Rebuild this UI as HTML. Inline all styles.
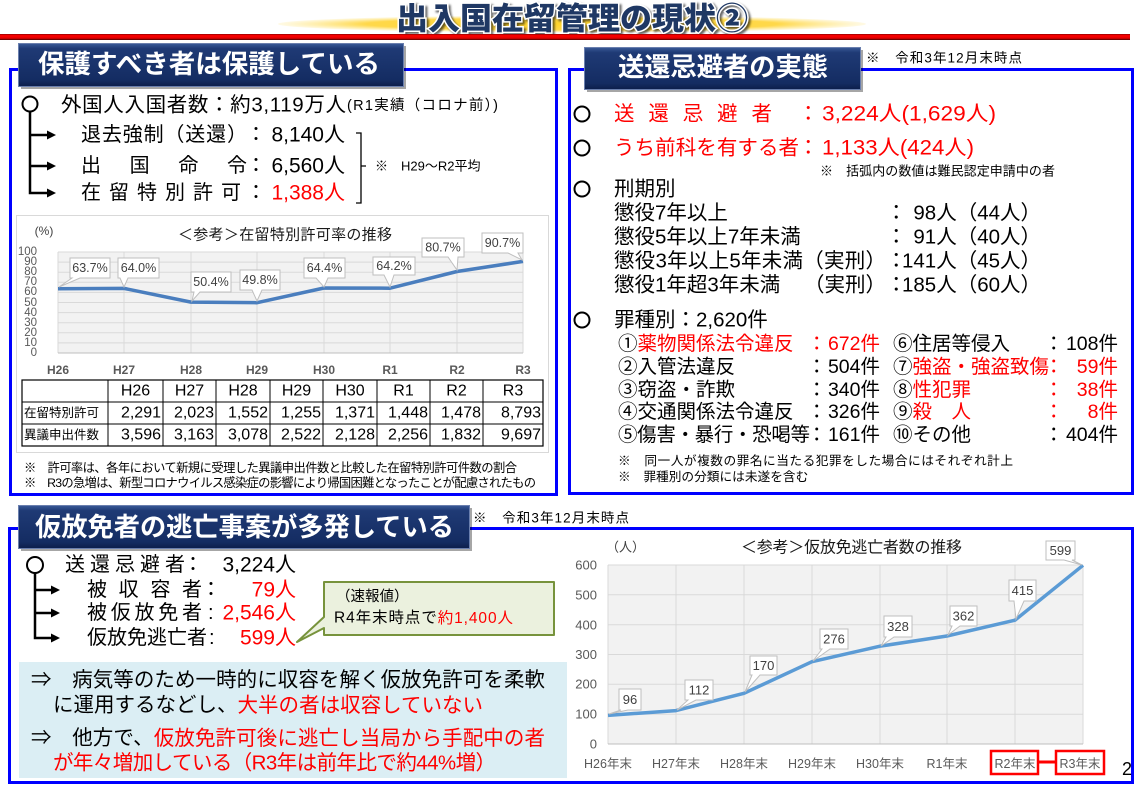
<!DOCTYPE html>
<html><head><meta charset="utf-8">
<style>
html,body{margin:0;padding:0;background:#fff;}
body{width:1139px;height:790px;overflow:hidden;position:relative;}
svg{position:absolute;left:0;top:0;}
text{font-family:"Liberation Sans","Noto Sans CJK JP",sans-serif;dominant-baseline:central;}
</style></head><body>
<svg width="1139" height="790" viewBox="0 0 1139 790" xmlns="http://www.w3.org/2000/svg">
<defs>
<radialGradient id="yel" cx="50%" cy="50%" r="50%">
 <stop offset="0" stop-color="#ffd42a"/>
 <stop offset="0.7" stop-color="#ffd84a"/>
 <stop offset="1" stop-color="#ffe680" stop-opacity="0.2"/>
</radialGradient>
<linearGradient id="redbar" x1="0" y1="0" x2="0" y2="1">
 <stop offset="0" stop-color="#8a0000"/>
 <stop offset="0.25" stop-color="#ff0000"/>
 <stop offset="0.7" stop-color="#e00000"/>
 <stop offset="1" stop-color="#4a0000"/>
</linearGradient>
<linearGradient id="navy" x1="0" y1="0" x2="0" y2="1">
 <stop offset="0" stop-color="#3a5a98"/>
 <stop offset="0.12" stop-color="#1f3a75"/>
 <stop offset="0.85" stop-color="#142c62"/>
 <stop offset="1" stop-color="#0c1e4a"/>
</linearGradient>
</defs>

<!-- Title -->
<ellipse cx="572" cy="24" rx="294" ry="8.5" fill="url(#yel)"/>
<text x="396" y="19" font-size="31" font-weight="900" fill="#1f3864" stroke="#fff" stroke-width="3" paint-order="stroke" textLength="352" lengthAdjust="spacingAndGlyphs" style="filter:drop-shadow(2px 2px 1px rgba(0,0,0,.6))">出入国在留管理の現状②</text>
<rect x="0" y="34" width="1130" height="6" fill="url(#redbar)"/>

<!-- Panels -->
<rect x="10.5" y="69.5" width="546" height="425" fill="none" stroke="#0000ff" stroke-width="3"/>
<rect x="569.5" y="69.5" width="563" height="424" fill="none" stroke="#0000ff" stroke-width="3"/>
<rect x="9.5" y="528.5" width="1123" height="254" fill="none" stroke="#0000ff" stroke-width="3"/>

<!-- Header boxes -->
<rect x="21" y="46" width="385" height="43" fill="rgba(0,0,0,.35)"/>
<rect x="18.5" y="43.5" width="385" height="43" fill="url(#navy)" stroke="#6a7fae" stroke-width="1"/>
<text x="38" y="64" font-size="26" font-weight="bold" fill="#fff" textLength="342" lengthAdjust="spacingAndGlyphs">保護すべき者は保護している</text>

<rect x="587" y="50" width="276" height="42" fill="rgba(0,0,0,.35)"/>
<rect x="584.5" y="47.5" width="276" height="42" fill="url(#navy)" stroke="#6a7fae" stroke-width="1"/>
<text x="618" y="67" font-size="26" font-weight="bold" fill="#fff" textLength="210" lengthAdjust="spacingAndGlyphs">送還忌避者の実態</text>
<text x="866" y="58" font-size="13.5" fill="#000" textLength="156" lengthAdjust="spacing">※　令和3年12月末時点</text>

<rect x="21" y="508" width="451" height="43" fill="rgba(0,0,0,.35)"/>
<rect x="18.5" y="505.5" width="451" height="43" fill="url(#navy)" stroke="#6a7fae" stroke-width="1"/>
<text x="35" y="527" font-size="26" font-weight="bold" fill="#fff" textLength="419" lengthAdjust="spacingAndGlyphs">仮放免者の逃亡事案が多発している</text>
<text x="473" y="518" font-size="13.5" fill="#000" textLength="156" lengthAdjust="spacing">※　令和3年12月末時点</text>

<!-- ===== Left panel ===== -->
<circle cx="30" cy="104" r="7.5" fill="none" stroke="#000" stroke-width="2"/>
<path d="M30 112 V193 H48 M30 135 H48 M30 166 H48" stroke="#000" stroke-width="2.5" fill="none"/>
<path d="M47 130.5 L56 135 L47 139.5Z M47 161.5 L56 166 L47 170.5Z M47 188.5 L56 193 L47 197.5Z" fill="#000"/>
<text x="61" y="105" font-size="20.5" textLength="285" lengthAdjust="spacing">外国人入国者数：約3,119万人</text>
<text x="347" y="106" font-size="14.5" textLength="151" lengthAdjust="spacing">(R1実績（コロナ前）)</text>

<text x="81" y="135" font-size="20" textLength="166" lengthAdjust="spacing">退去強制（送還）</text>
<text x="246" y="135" font-size="20">：</text>
<text x="345" y="135" font-size="21" text-anchor="end">8,140人</text>
<text x="81" y="166" font-size="20" textLength="166" lengthAdjust="spacing">出　国　命　令</text>
<text x="246" y="166" font-size="20">：</text>
<text x="345" y="166" font-size="21" text-anchor="end">6,560人</text>
<text x="81" y="193" font-size="20" textLength="160" lengthAdjust="spacing">在留特別許可</text>
<text x="246" y="193" font-size="20">：</text>
<text x="345" y="193" font-size="21" text-anchor="end" fill="#ff0000">1,388人</text>
<path d="M356 133 H361 V203 H356 M361 166 H366" stroke="#000" stroke-width="1.3" fill="none"/>
<text x="375" y="166" font-size="13">※　H29〜R2平均</text>

<!-- Left chart -->
<rect x="16.5" y="215.5" width="532" height="237" fill="#fff" stroke="#d9d9d9"/>
<rect x="58" y="252" width="465" height="101" fill="#f2f2f2"/>
<g stroke="#d9d9d9" stroke-width="1">
<line x1="58" x2="523" y1="252" y2="252"/><line x1="58" x2="523" y1="262.1" y2="262.1"/>
<line x1="58" x2="523" y1="272.2" y2="272.2"/><line x1="58" x2="523" y1="282.3" y2="282.3"/>
<line x1="58" x2="523" y1="292.4" y2="292.4"/><line x1="58" x2="523" y1="302.5" y2="302.5"/>
<line x1="58" x2="523" y1="312.6" y2="312.6"/><line x1="58" x2="523" y1="322.7" y2="322.7"/>
<line x1="58" x2="523" y1="332.8" y2="332.8"/><line x1="58" x2="523" y1="342.9" y2="342.9"/>
<line x1="58" x2="58" y1="252" y2="353"/><line x1="124" x2="124" y1="252" y2="353"/>
<line x1="191" x2="191" y1="252" y2="353"/><line x1="257" x2="257" y1="252" y2="353"/>
<line x1="324" x2="324" y1="252" y2="353"/><line x1="390" x2="390" y1="252" y2="353"/>
<line x1="457" x2="457" y1="252" y2="353"/><line x1="523" x2="523" y1="252" y2="353"/>
</g>
<line x1="58" x2="523" y1="353" y2="353" stroke="#bfbfbf"/>
<g font-size="11.5" fill="#595959" text-anchor="end">
<text x="37" y="353">0</text><text x="37" y="343">10</text><text x="37" y="333">20</text>
<text x="37" y="323">30</text><text x="37" y="313">40</text><text x="37" y="303">50</text>
<text x="37" y="292">60</text><text x="37" y="282">70</text><text x="37" y="272">80</text>
<text x="37" y="262">90</text><text x="37" y="252">100</text>
</g>
<text x="44" y="231" font-size="12" fill="#404040" text-anchor="middle">(%)</text>
<text x="178" y="235" font-size="15" fill="#1a1a1a" textLength="214" lengthAdjust="spacing">＜参考＞在留特別許可率の推移</text>
<g font-size="12" font-weight="bold" fill="#595959" text-anchor="middle">
<text x="58" y="370">H26</text><text x="124" y="370">H27</text><text x="191" y="370">H28</text>
<text x="257" y="370">H29</text><text x="324" y="370">H30</text><text x="390" y="370">R1</text>
<text x="457" y="370">R2</text><text x="523" y="370">R3</text>
</g>
<polyline points="58,288.7 124,288.4 191,302.1 257,302.7 324,288 390,288.2 457,271.5 523,261.4" fill="none" stroke="#4a7ebe" stroke-width="3.5" stroke-linejoin="round"/>
<g fill="#fff" stroke="#bfbfbf" stroke-width="1">
<path d="M70 258 H110 V278 H80 L59 287 L72 278 H70 Z"/>
<path d="M118 258 H159 V278 H128 L124 287 L120 278 H118 Z"/>
<path d="M191 272 H231 V292 H200 L192 301 L194 292 H191 Z"/>
<path d="M240 270 H280 V290 H262 L257 301 L252 290 H240 Z"/>
<path d="M304 258 H345 V278 H328 L324 287 L316 278 H304 Z"/>
<path d="M373 257 H415 V275 H394 L390 287 L384 275 H373 Z"/>
<path d="M422 238 H464 V257 H458 L457 270 L448 257 H422 Z"/>
<path d="M482 233 H523 V253 H518 L522 260 L508 253 H482 Z"/>
</g>
<g font-size="12.5" fill="#404040" text-anchor="middle">
<text x="90" y="268">63.7%</text><text x="138.5" y="268">64.0%</text>
<text x="211" y="282">50.4%</text><text x="260" y="280">49.8%</text>
<text x="324.5" y="268">64.4%</text><text x="394" y="266">64.2%</text>
<text x="443" y="247.5">80.7%</text><text x="502.5" y="243">90.7%</text>
</g>

<!-- Table -->
<rect x="22" y="380" width="521" height="66" fill="#fff" stroke="#000" stroke-width="1.2"/>
<g stroke="#000" stroke-width="1">
<line x1="22" x2="543" y1="402" y2="402"/><line x1="22" x2="543" y1="424" y2="424"/>
<line x1="108" x2="108" y1="380" y2="446"/><line x1="163" x2="163" y1="380" y2="446"/>
<line x1="216" x2="216" y1="380" y2="446"/><line x1="270" x2="270" y1="380" y2="446"/>
<line x1="323" x2="323" y1="380" y2="446"/><line x1="377" x2="377" y1="380" y2="446"/>
<line x1="430" x2="430" y1="380" y2="446"/><line x1="483" x2="483" y1="380" y2="446"/>
</g>
<g font-size="16" text-anchor="middle">
<text x="135.5" y="391">H26</text><text x="189.5" y="391">H27</text><text x="243" y="391">H28</text>
<text x="296.5" y="391">H29</text><text x="350" y="391">H30</text><text x="403.5" y="391">R1</text>
<text x="456.5" y="391">R2</text><text x="513" y="391">R3</text>
</g>
<text x="24" y="413" font-size="12.5">在留特別許可</text>
<text x="24" y="435" font-size="12.5">異議申出件数</text>
<g font-size="16" text-anchor="end">
<text x="161" y="413">2,291</text><text x="214" y="413">2,023</text><text x="268" y="413">1,552</text>
<text x="321" y="413">1,255</text><text x="375" y="413">1,371</text><text x="428" y="413">1,448</text>
<text x="481" y="413">1,478</text><text x="541" y="413">8,793</text>
<text x="161" y="435">3,596</text><text x="214" y="435">3,163</text><text x="268" y="435">3,078</text>
<text x="321" y="435">2,522</text><text x="375" y="435">2,128</text><text x="428" y="435">2,256</text>
<text x="481" y="435">1,832</text><text x="541" y="435">9,697</text>
</g>
<text x="24" y="468" font-size="12.3" textLength="493" lengthAdjust="spacing">※　許可率は、各年において新規に受理した異議申出件数と比較した在留特別許可件数の割合</text>
<text x="24" y="483" font-size="12.3" textLength="512" lengthAdjust="spacing">※　R3の急増は、新型コロナウイルス感染症の影響により帰国困難となったことが配慮されたもの</text>

<!-- ===== Right panel ===== -->
<g fill="none" stroke="#000" stroke-width="2">
<circle cx="582" cy="114" r="7.5"/><circle cx="582" cy="148" r="7.5"/>
<circle cx="582" cy="189" r="7.5"/><circle cx="582" cy="320" r="7.5"/>
</g>
<text x="614" y="114" font-size="20.5" fill="#ff0000" textLength="158" lengthAdjust="spacing">送還忌避者</text>
<text x="798" y="114" font-size="20.5" fill="#ff0000">：</text>
<text x="822" y="114" font-size="21" fill="#ff0000" textLength="174" lengthAdjust="spacingAndGlyphs">3,224人(1,629人)</text>
<text x="614" y="148" font-size="20.5" fill="#ff0000" textLength="185" lengthAdjust="spacing">うち前科を有する者</text>
<text x="798" y="148" font-size="20.5" fill="#ff0000">：</text>
<text x="822" y="148" font-size="21" fill="#ff0000" textLength="152" lengthAdjust="spacingAndGlyphs">1,133人(424人)</text>
<text x="820" y="171" font-size="13" textLength="235" lengthAdjust="spacing">※　括弧内の数値は難民認定申請中の者</text>
<text x="614" y="189" font-size="20.5">刑期別</text>
<g font-size="20.5">
<text x="614" y="213">懲役7年以上</text>
<text x="886" y="213">：</text>
<text x="1041" y="213" text-anchor="end">98人（44人）</text>
<text x="614" y="237">懲役5年以上7年未満</text>
<text x="886" y="237">：</text>
<text x="1041" y="237" text-anchor="end">91人（40人）</text>
<text x="614" y="261" textLength="272" lengthAdjust="spacing">懲役3年以上5年未満（実刑）</text>
<text x="886" y="261">：</text>
<text x="1041" y="261" text-anchor="end">141人（45人）</text>
<text x="614" y="285">懲役1年超3年未満</text>
<text x="804" y="285">（実刑）</text>
<text x="886" y="285">：</text>
<text x="1041" y="285" text-anchor="end">185人（60人）</text>
</g>
<text x="614" y="320" font-size="20.5">罪種別：2,620件</text>
<g font-size="19.5">
<text x="618" y="344">①<tspan fill="#ff0000">薬物関係法令違反</tspan></text>
<text x="807" y="344" fill="#ff0000">：</text>
<text x="880" y="344" text-anchor="end" fill="#ff0000">672件</text>
<text x="618" y="367">②入管法違反</text>
<text x="807" y="367">：</text>
<text x="880" y="367" text-anchor="end">504件</text>
<text x="618" y="390">③窃盗・詐欺</text>
<text x="807" y="390">：</text>
<text x="880" y="390" text-anchor="end">340件</text>
<text x="618" y="412">④交通関係法令違反</text>
<text x="807" y="412">：</text>
<text x="880" y="412" text-anchor="end">326件</text>
<text x="618" y="435" textLength="192" lengthAdjust="spacing">⑤傷害・暴行・恐喝等</text>
<text x="807" y="435">：</text>
<text x="880" y="435" text-anchor="end">161件</text>

<text x="893" y="344">⑥住居等侵入</text>
<text x="1044" y="344">：</text>
<text x="1118" y="344" text-anchor="end">108件</text>
<text x="893" y="367">⑦<tspan fill="#ff0000">強盗・強盗致傷</tspan></text>
<text x="1044" y="367" fill="#ff0000">：</text>
<text x="1118" y="367" text-anchor="end" fill="#ff0000">59件</text>
<text x="893" y="390">⑧<tspan fill="#ff0000">性犯罪</tspan></text>
<text x="1044" y="390" fill="#ff0000">：</text>
<text x="1118" y="390" text-anchor="end" fill="#ff0000">38件</text>
<text x="893" y="412">⑨<tspan fill="#ff0000">殺　人</tspan></text>
<text x="1044" y="412" fill="#ff0000">：</text>
<text x="1118" y="412" text-anchor="end" fill="#ff0000">8件</text>
<text x="893" y="435">⑩その他</text>
<text x="1044" y="435">：</text>
<text x="1118" y="435" text-anchor="end">404件</text>
</g>
<text x="618" y="461" font-size="12.7" textLength="395" lengthAdjust="spacing">※　同一人が複数の罪名に当たる犯罪をした場合にはそれぞれ計上</text>
<text x="618" y="477" font-size="12.7">※　罪種別の分類には未遂を含む</text>

<!-- ===== Bottom-left ===== -->
<circle cx="35" cy="565" r="8" fill="none" stroke="#000" stroke-width="2"/>
<path d="M35 573 V638 H52 M35 590 H52 M35 613 H52" stroke="#000" stroke-width="2.5" fill="none"/>
<path d="M51 585.5 L60 590 L51 594.5Z M51 608.5 L60 613 L51 617.5Z M51 633.5 L60 638 L51 642.5Z" fill="#000"/>
<text x="65" y="565" font-size="20" textLength="120" lengthAdjust="spacing">送還忌避者</text>
<text x="183" y="565" font-size="20">：</text>
<text x="296" y="565" font-size="21" text-anchor="end">3,224人</text>
<text x="87" y="590" font-size="20" textLength="115" lengthAdjust="spacing">被収容者</text>
<text x="201" y="590" font-size="20">：</text>
<text x="296" y="590" font-size="21" text-anchor="end" fill="#ff0000">79人</text>
<text x="87" y="613" font-size="20" textLength="115" lengthAdjust="spacing">被仮放免者</text>
<text x="208" y="613" font-size="20">:</text>
<text x="296" y="613" font-size="21" text-anchor="end" fill="#ff0000">2,546人</text>
<text x="87" y="638" font-size="20" textLength="120" lengthAdjust="spacing">仮放免逃亡者</text>
<text x="209" y="638" font-size="20">:</text>
<text x="296" y="638" font-size="21" text-anchor="end" fill="#ff0000">599人</text>

<path d="M324 582 H554 V635 H324 V628 L297 642 L324 617 Z" fill="#ebf1de" stroke="#77933c" stroke-width="2" stroke-linejoin="round"/>
<text x="336" y="597" font-size="14.5">（速報値）</text>
<text x="334" y="618" font-size="15.5" textLength="179" lengthAdjust="spacing">R4年末時点で<tspan fill="#ff0000">約1,400人</tspan></text>

<rect x="19" y="662" width="548" height="116" fill="#dbeef4"/>
<text x="31" y="680" font-size="20.5" textLength="514" lengthAdjust="spacing">⇒　病気等のため一時的に収容を解く仮放免許可を柔軟</text>
<text x="53" y="705" font-size="20.5" textLength="430" lengthAdjust="spacing">に運用するなどし、<tspan fill="#ff0000">大半の者は収容していない</tspan></text>
<text x="31" y="738" font-size="20.5" textLength="514" lengthAdjust="spacing">⇒　他方で、<tspan fill="#ff0000">仮放免許可後に逃亡し当局から手配中の者</tspan></text>
<text x="53" y="763" font-size="20.5" fill="#ff0000" textLength="443" lengthAdjust="spacing">が年々増加している（R3年は前年比で約44%増）</text>

<!-- ===== Bottom-right chart ===== -->
<rect x="608" y="565" width="475" height="179" fill="#f2f2f2"/>
<g stroke="#d9d9d9" stroke-width="1">
<line x1="608" x2="1083" y1="565" y2="565"/><line x1="608" x2="1083" y1="594.8" y2="594.8"/>
<line x1="608" x2="1083" y1="624.7" y2="624.7"/><line x1="608" x2="1083" y1="654.5" y2="654.5"/>
<line x1="608" x2="1083" y1="684.3" y2="684.3"/><line x1="608" x2="1083" y1="714.2" y2="714.2"/>
<line x1="608" x2="608" y1="565" y2="744"/><line x1="676" x2="676" y1="565" y2="744"/>
<line x1="744" x2="744" y1="565" y2="744"/><line x1="812" x2="812" y1="565" y2="744"/>
<line x1="880" x2="880" y1="565" y2="744"/><line x1="947" x2="947" y1="565" y2="744"/>
<line x1="1015" x2="1015" y1="565" y2="744"/><line x1="1083" x2="1083" y1="565" y2="744"/>
</g>
<line x1="608" x2="1083" y1="744" y2="744" stroke="#bfbfbf"/>
<g font-size="13" fill="#595959" text-anchor="end">
<text x="597" y="744">0</text><text x="597" y="714">100</text><text x="597" y="684">200</text>
<text x="597" y="654.5">300</text><text x="597" y="625">400</text><text x="597" y="595">500</text>
<text x="597" y="565">600</text>
</g>
<text x="606" y="547" font-size="13" fill="#404040">（人）</text>
<text x="741" y="548" font-size="16" fill="#1a1a1a" textLength="221" lengthAdjust="spacing">＜参考＞仮放免逃亡者数の推移</text>
<g font-size="12.5" fill="#595959" text-anchor="middle">
<text x="608" y="764">H26年末</text><text x="676" y="764">H27年末</text><text x="744" y="764">H28年末</text>
<text x="812" y="764">H29年末</text><text x="880" y="764">H30年末</text><text x="947" y="764">R1年末</text>
<text x="1015" y="764">R2年末</text><text x="1080" y="764">R3年末</text>
</g>
<polyline points="608,715.4 676,710.6 744,693.3 812,661.7 880,646.2 947,636 1015,620.2 1083,565.3" fill="none" stroke="#5b9bd5" stroke-width="3.5" stroke-linejoin="round"/>
<g fill="#fff" stroke="#bfbfbf" stroke-width="1">
<path d="M619 689 H641 V710 H628 L609 714 L621 710 H619 Z"/>
<path d="M685 680 H713 V700 H696 L677 710 L688 700 H685 Z"/>
<path d="M750 656 H777 V675 H760 L745 692 L752 675 H750 Z"/>
<path d="M820 629 H848 V649 H830 L813 661 L822 649 H820 Z"/>
<path d="M884 616 H912 V637 H894 L881 646 L886 637 H884 Z"/>
<path d="M950 606 H977 V626 H960 L948 635 L952 626 H950 Z"/>
<path d="M1009 580 H1036 V601 H1024 L1016 619 L1014 601 H1009 Z"/>
<path d="M1046 541 H1075 V560 H1072 L1082 565 L1064 560 H1046 Z"/>
</g>
<g font-size="13" fill="#404040" text-anchor="middle">
<text x="630" y="699.5">96</text><text x="699" y="690">112</text><text x="763.5" y="665.5">170</text>
<text x="834" y="639">276</text><text x="898" y="626.5">328</text><text x="963.5" y="616">362</text>
<text x="1022.5" y="590.5">415</text><text x="1060.5" y="550.5">599</text>
</g>
<rect x="991" y="751" width="47" height="23" fill="none" stroke="#ff0000" stroke-width="2.5"/>
<rect x="1056" y="751" width="48" height="23" fill="none" stroke="#ff0000" stroke-width="2.5"/>
<line x1="1038" y1="762" x2="1056" y2="762" stroke="#ff0000" stroke-width="3"/>
<text x="1122" y="769" font-size="18">2</text>
</svg>
</body></html>
